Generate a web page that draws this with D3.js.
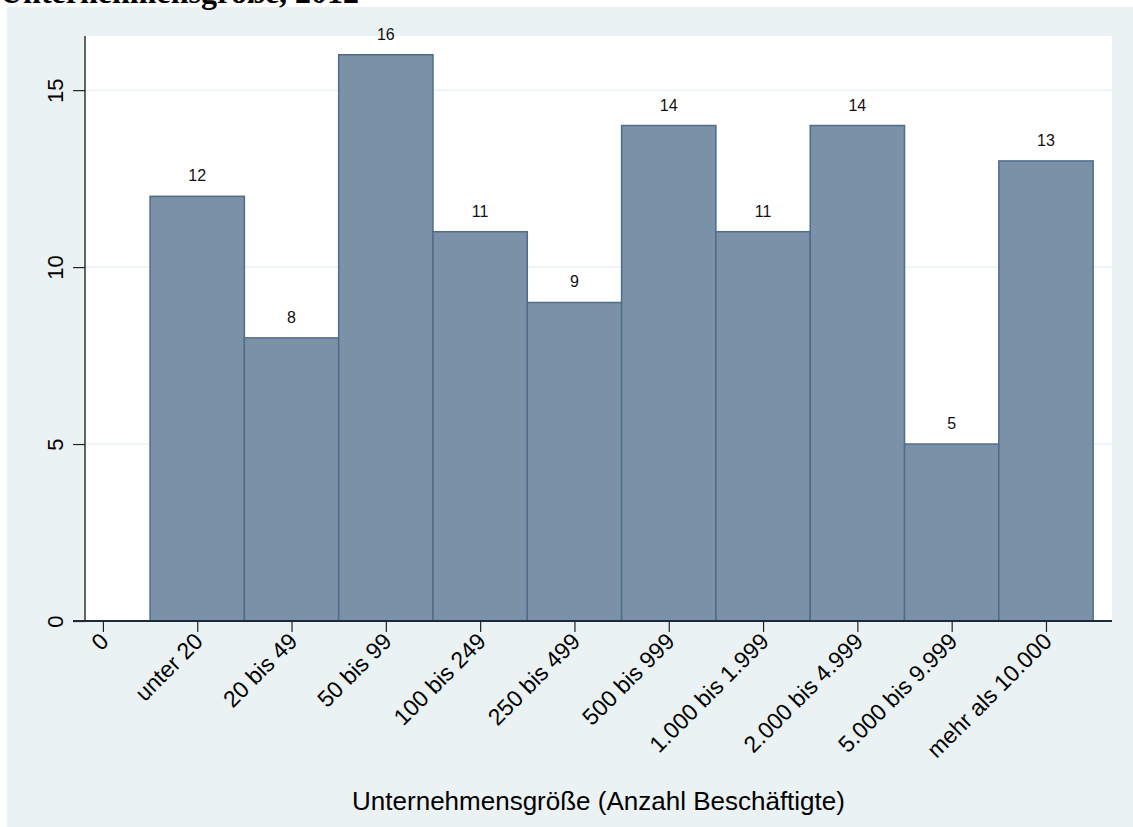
<!DOCTYPE html>
<html>
<head>
<meta charset="utf-8">
<script src="https://cdn.jsdelivr.net/npm/d3@7"></script>
<style>
  body { margin: 0; background: #fff; }
  text { font-family: "Liberation Sans", Arial, sans-serif; }
</style>
</head>
<body>
<div id="chart"></div>
<script>
// data
var categories = ["unter 20", "20 bis 49", "50 bis 99", "100 bis 249", "250 bis 499",
                  "500 bis 999", "1.000 bis 1.999", "2.000 bis 4.999", "5.000 bis 9.999", "mehr als 10.000"];
var counts = [12, 8, 16, 11, 9, 14, 11, 14, 5, 13];
var yTicks = [0, 5, 10, 15];
var xTickLabels = ["0"].concat(categories);

var svgWidth = 1133;
var svgHeight = 827;

var plot = { left: 85, right: 1112, top: 36, bottom: 621 };
var sans = "'Liberation Sans', Arial, sans-serif";

var svg = d3.select("#chart")
    .append("svg")
    .attr("width", svgWidth)
    .attr("height", svgHeight);

// outer background
svg.append("rect")
    .attr("x", 7).attr("y", 7)
    .attr("width", svgWidth - 7).attr("height", svgHeight - 7)
    .attr("fill", "#eaf2f3");

// title, cut off at the top like the original
svg.append("text")
    .attr("x", 0).attr("y", 3)
    .style("font-family", "'Liberation Serif', 'Times New Roman', serif")
    .style("font-weight", "bold")
    .style("font-size", "32px")
    .attr("fill", "#000")
    .text("Unternehmensgröße, 2012");

svg.append("rect")
    .attr("x", plot.left).attr("y", plot.top)
    .attr("width", plot.right - plot.left).attr("height", plot.bottom - plot.top)
    .attr("fill", "#fff");

var xScale = d3.scaleLinear()
    .domain([-0.19, 10.7])
    .range([plot.left, plot.right]);

var yScale = d3.scaleLinear()
    .domain([0, 16.53])
    .range([plot.bottom, plot.top]);

// gridlines
svg.append("g")
    .selectAll("line")
    .data(yTicks.filter(d => d > 0))
    .enter()
    .append("line")
    .attr("x1", plot.left).attr("x2", plot.right)
    .attr("y1", d => yScale(d)).attr("y2", d => yScale(d))
    .attr("stroke", "#eaf2f3")
    .attr("stroke-width", 1.5);

// bars
var barW = xScale(1) - xScale(0);
svg.append("g")
    .selectAll("rect")
    .data(counts)
    .enter()
    .append("rect")
    .attr("x", (d, i) => xScale(i + 1) - barW / 2)
    .attr("y", d => yScale(d))
    .attr("width", barW)
    .attr("height", d => yScale(0) - yScale(d))
    .attr("fill", "#7b91a8")
    .attr("stroke", "#4e6d8c")
    .attr("stroke-width", 1.5);

// value labels
svg.append("g")
    .selectAll("text")
    .data(counts)
    .enter()
    .append("text")
    .attr("x", (d, i) => xScale(i + 1))
    .attr("y", d => yScale(d) - 15)
    .attr("text-anchor", "middle")
    .style("font-family", sans)
    .style("font-size", "16px")
    .attr("fill", "#111")
    .text(d => d);

// y axis
var yAxis = d3.axisLeft(yScale)
    .tickValues(yTicks)
    .tickSize(12)
    .tickFormat(d3.format("d"));

var yG = svg.append("g")
    .attr("transform", `translate(${plot.left}, 0)`)
    .call(yAxis);
yG.select(".domain").attr("d", `M0,${plot.top}V${plot.bottom}`).attr("stroke", "#000").attr("stroke-width", 1.2);
yG.selectAll(".tick line").attr("stroke", "#222").attr("stroke-width", 1.2);
yG.selectAll(".tick text")
    .attr("x", null).attr("dy", null)
    .attr("transform", "translate(-22, 0) rotate(-90)")
    .attr("text-anchor", "middle")
    .style("font-size", "22px")
    .style("font-family", sans)
    .attr("fill", "#000");

// x axis
var xAxis = d3.axisBottom(xScale)
    .tickValues(d3.range(xTickLabels.length))
    .tickSize(11)
    .tickFormat((d, i) => xTickLabels[i]);

var xG = svg.append("g")
    .attr("transform", `translate(0, ${plot.bottom})`)
    .call(xAxis);
xG.select(".domain").attr("d", `M${plot.left - 12},0H${plot.right}`).attr("stroke", "#1e2a36").attr("stroke-width", 2);
xG.selectAll(".tick line").attr("stroke", "#222").attr("stroke-width", 1.2);
xG.selectAll(".tick text")
    .attr("y", null).attr("dy", "0.35em")
    .attr("transform", "translate(1, 16) rotate(-45)")
    .attr("text-anchor", "end")
    .style("font-size", "23px")
    .style("font-family", sans)
    .attr("fill", "#000");

// axis title
svg.append("text")
    .attr("x", (plot.left + plot.right) / 2)
    .attr("y", 810)
    .attr("text-anchor", "middle")
    .style("font-family", sans)
    .style("font-size", "26px")
    .attr("fill", "#000")
    .text("Unternehmensgröße (Anzahl Beschäftigte)");
</script>
</body>
</html>
